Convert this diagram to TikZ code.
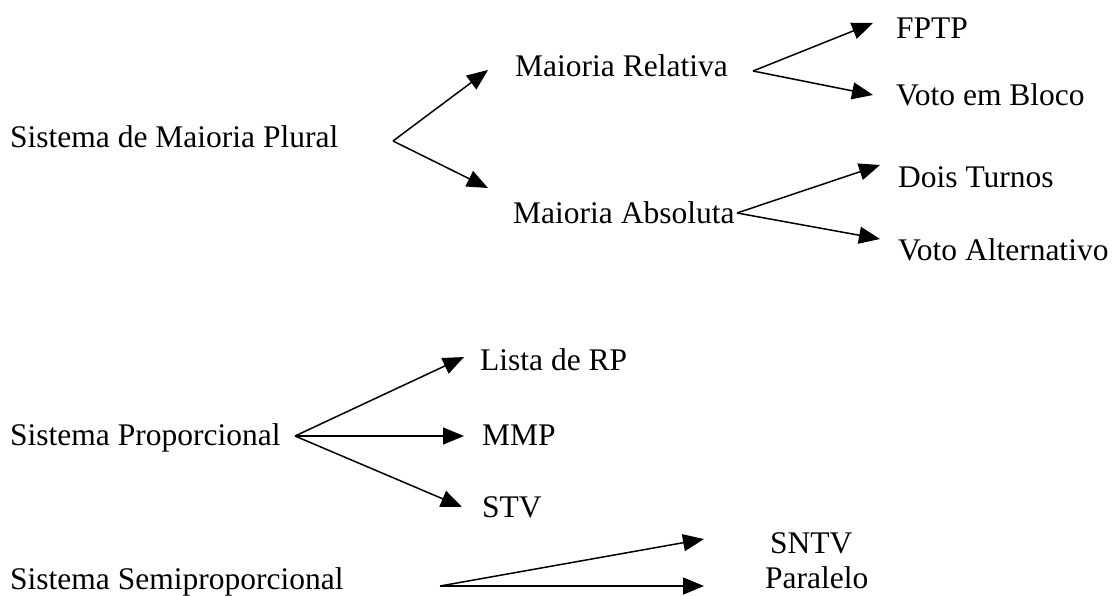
\documentclass[tikz,border=0pt]{standalone}
\usepackage{fontspec}
\setmainfont{Liberation Serif}
\usetikzlibrary{arrows.meta}

\tikzset{
  lbl/.style={anchor=base west, inner sep=0pt, font=\fontsize{31.5}{38}\selectfont},
  arr/.style={-{Triangle[length=21pt,width=17pt]}, line width=1.5pt}
}

\begin{document}
\begin{tikzpicture}[x=1pt, y=-1pt]

\useasboundingbox (0,0) rectangle (1115,595);

% Sistema de Maioria Plural
\node[lbl] (plural) at (10,147) {Sistema de Maioria Plural};
\node[lbl] (mrel) at (515,76) {Maioria Relativa};
\node[lbl] (mabs) at (513,223) {Maioria Absoluta};
\node[lbl] (fptp) at (896,38) {FPTP};
\node[lbl] (bloco) at (896,105) {Voto em Bloco};
\node[lbl] (dois) at (898,187) {Dois Turnos};
\node[lbl] (alt) at (898,260) {Voto Alternativo};

\coordinate (fplural) at (393,141);
\coordinate (frel) at (753,71);
\coordinate (fabs) at (737,213);

\draw[arr] (fplural) -- ([shift={(-27,-6)}]mrel.base west);
\draw[arr] (fplural) -- ([shift={(-25,-35)}]mabs.base west);
\draw[arr] (frel) -- ([shift={(-23,-15)}]fptp.base west);
\draw[arr] (frel) -- ([shift={(-23,-10)}]bloco.base west);
\draw[arr] (fabs) -- ([shift={(-18,-22)}]dois.base west);
\draw[arr] (fabs) -- ([shift={(-18,-21)}]alt.base west);

% Sistema Proporcional
\node[lbl] (prop) at (10,445) {Sistema Proporcional};
\node[lbl] (lista) at (480,370) {Lista de RP};
\node[lbl] (mmp) at (482,445) {MMP};
\node[lbl] (stv) at (482,517) {STV};

\coordinate (fprop) at (295,436);

\draw[arr] (fprop) -- ([shift={(-16,-13)}]lista.base west);
\draw[arr] (fprop) -- ([shift={(-18,-9)}]mmp.base west);
\draw[arr] (fprop) -- ([shift={(-20,-10)}]stv.base west);

% Sistema Semiproporcional
\node[lbl] (semi) at (10,589) {Sistema Semiproporcional};
\node[lbl] (sntv) at (770,553) {SNTV};
\node[lbl] (paralelo) at (765,588) {Paralelo};

\coordinate (fsemi) at (440,586);

\draw[arr] (fsemi) -- ([shift={(-66,-14)}]sntv.base west);
\draw[arr] (fsemi) -- ([shift={(-61,-2)}]paralelo.base west);

\end{tikzpicture}
\end{document}
